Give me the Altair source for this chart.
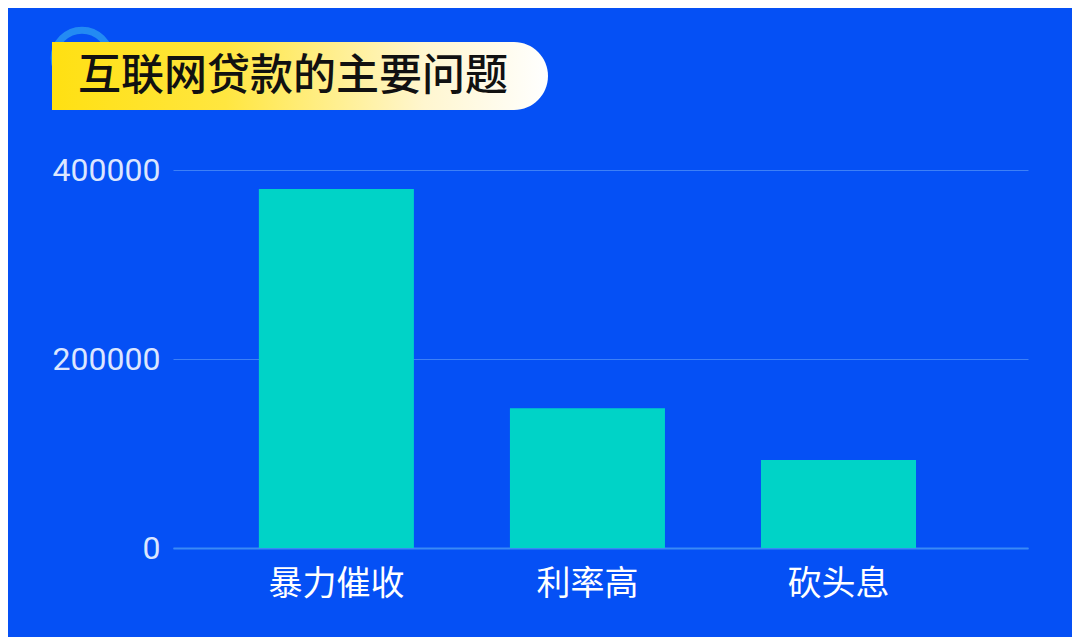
import altair as alt
import pandas as pd

categories = ["暴力催收", "利率高", "砍头息"]
values = [380000, 148000, 93000]
y_ticks = [0, 200000, 400000]
title_text = "互联网贷款的主要问题"

df = pd.DataFrame({"category": categories, "value": values})
one = pd.DataFrame({"t": [title_text]})

bars = alt.Chart(df).mark_bar(color="#00d3c7").encode(
    x=alt.X(
        "category:N",
        sort=categories,
        scale=alt.Scale(paddingInner=0.3825, paddingOuter=0.394, align=0.434),
        axis=alt.Axis(
            title=None, labelAngle=0, labelFontSize=34, labelColor="#ffffff",
            labelFont="Noto Sans CJK SC", labelPadding=19, ticks=False,
            domainColor="#3a8af5", domainWidth=2, grid=False,
        ),
    ),
    y=alt.Y(
        "value:Q",
        scale=alt.Scale(domain=[0, 400000], nice=False),
        axis=alt.Axis(
            title=None, values=y_ticks, format="d", labelFontSize=32,
            labelColor="#dce6ff", labelFont="Roboto", labelPadding=13,
            ticks=False, domain=False, gridColor="#3d80f7", gridWidth=1,
        ),
    ),
)

ring = alt.Chart(one).mark_point(
    shape="circle", filled=False, size=3100, strokeWidth=7, color="#2b9af3", opacity=0.8
).encode(x=alt.value(-91), y=alt.value(-112))

grad = alt.Gradient(
    gradient="linear",
    stops=[
        alt.GradientStop(color="#ffe012", offset=0),
        alt.GradientStop(color="#ffe640", offset=0.35),
        alt.GradientStop(color="#fff6cf", offset=0.75),
        alt.GradientStop(color="#ffffff", offset=1),
    ],
    x1=0, x2=1, y1=0, y2=0,
)

pill = alt.Chart(one).mark_rect(
    color=grad, cornerRadiusTopRight=34, cornerRadiusBottomRight=34
).encode(x=alt.value(-121), x2=alt.value(375), y=alt.value(-128), y2=alt.value(-60))

title = alt.Chart(one).mark_text(
    align="left", baseline="middle", fontSize=43, font="Noto Sans CJK SC",
    fontWeight=500, color="#111111",
).encode(text="t:N", x=alt.value(-95), y=alt.value(-93))

chart = alt.layer(bars, ring, pill, title).properties(
    width=855, height=378,
    autosize=alt.AutoSizeParams(type="none"),
    padding={"left": 165, "top": 162, "right": 44, "bottom": 89},
    background="#0550f5",
).configure_view(stroke=None)

chart.save("out.html", embed_options={"renderer": "svg", "actions": False})
